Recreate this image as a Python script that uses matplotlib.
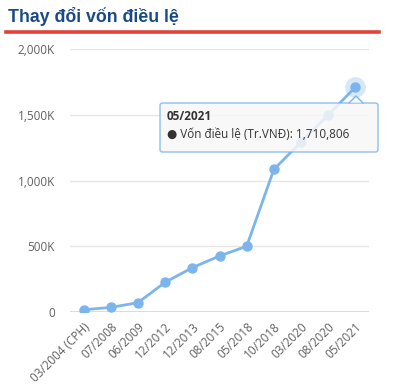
import matplotlib.pyplot as plt
from matplotlib.lines import Line2D
from matplotlib.patches import FancyBboxPatch, Polygon

# data (Tr.VND, thousands on axis)
periods = ["03/2004 (CPH)", "07/2008", "06/2009", "12/2012", "12/2013", "08/2015",
           "05/2018", "10/2018", "03/2020", "08/2020", "05/2021"]
capital_k = [17, 35, 71, 226, 337, 426, 500, 1084, 1293, 1498, 1710.806]
y_ticks = [0, 500, 1000, 1500, 2000]
y_tick_labels = ["0", "500K", "1,000K", "1,500K", "2,000K"]

LINE_COLOR = "#7cb5ec"
TEXT_COLOR = "#606060"

plt.rcParams["font.family"] = ["Open Sans", "DejaVu Sans"]

fig = plt.figure(figsize=(4.07, 3.90), dpi=100)

# header
fig.text(8 / 407, 1 - 17 / 390, "Thay đổi vốn điều lệ", fontsize=12.8, fontweight="bold",
         color="#1a4a86", family=["Liberation Sans", "DejaVu Sans"], va="center", ha="left")
fig.add_artist(Line2D([6 / 407, 379 / 407], [1 - 32 / 390, 1 - 32 / 390],
                      color="#e0433a", lw=2.6, transform=fig.transFigure))

ax = fig.add_axes([70 / 407, 78 / 390, 299 / 407, 263 / 390])
x = list(range(len(periods)))

ax.plot(x, capital_k, color=LINE_COLOR, lw=2, marker="o", ms=6.5,
        markerfacecolor=LINE_COLOR, markeredgecolor=LINE_COLOR, zorder=3)
# hover halo on the last point
ax.plot(x[-1], capital_k[-1], "o", ms=15, color=LINE_COLOR, alpha=0.3,
        markeredgewidth=0, zorder=2)

ax.set_xlim(-0.5, len(periods) - 0.5)
ax.set_ylim(0, 2000)
ax.set_yticks(y_ticks)
ax.set_yticklabels(y_tick_labels)
ax.set_xticks(x)
ax.set_xticklabels(periods, rotation=45, ha="right", rotation_mode="anchor")
ax.tick_params(axis="both", length=0, labelsize=8.5, colors=TEXT_COLOR)
ax.tick_params(axis="y", pad=11)
ax.tick_params(axis="x", pad=6)

for v in y_ticks[1:]:
    ax.axhline(v, color="#e6e6e6", lw=1, zorder=0)
ax.axhline(0, color="#ccd6eb", lw=1.2, zorder=1)
for s in ax.spines.values():
    s.set_visible(False)

# tooltip
left, top, right, bottom = 160 / 407, 1 - 103 / 390, 378 / 407, 1 - 152 / 390
box = FancyBboxPatch((left, bottom), right - left, top - bottom,
                     boxstyle="round,pad=0,rounding_size=0.006",
                     transform=fig.transFigure, facecolor="#f7f7f7", alpha=0.85,
                     edgecolor=LINE_COLOR, lw=1, zorder=5)
fig.add_artist(box)
arrow = Polygon([[349 / 407, top + 0.5 / 390], [356 / 407, 1 - 96 / 390],
                 [363 / 407, top + 0.5 / 390]],
                closed=True, transform=fig.transFigure, facecolor="#f7f7f7",
                edgecolor="none", zorder=6)
fig.add_artist(arrow)
fig.add_artist(Line2D([349 / 407, 356 / 407, 363 / 407],
                      [top, 1 - 96 / 390, top], color=LINE_COLOR, lw=1,
                      transform=fig.transFigure, zorder=6))
fig.text(167 / 407, 1 - 117 / 390, periods[-1], fontsize=8.5, fontweight="bold",
         color="#333333", va="center", ha="left", zorder=7)
fig.text(167 / 407, 1 - 135 / 390,
         "\u25cf Vốn điều lệ (Tr.VNĐ): " + f"{capital_k[-1] * 1000:,.0f}",
         fontsize=8.5, color="#333333", va="center", ha="left", zorder=7)

fig.savefig("out.png", dpi=100)
